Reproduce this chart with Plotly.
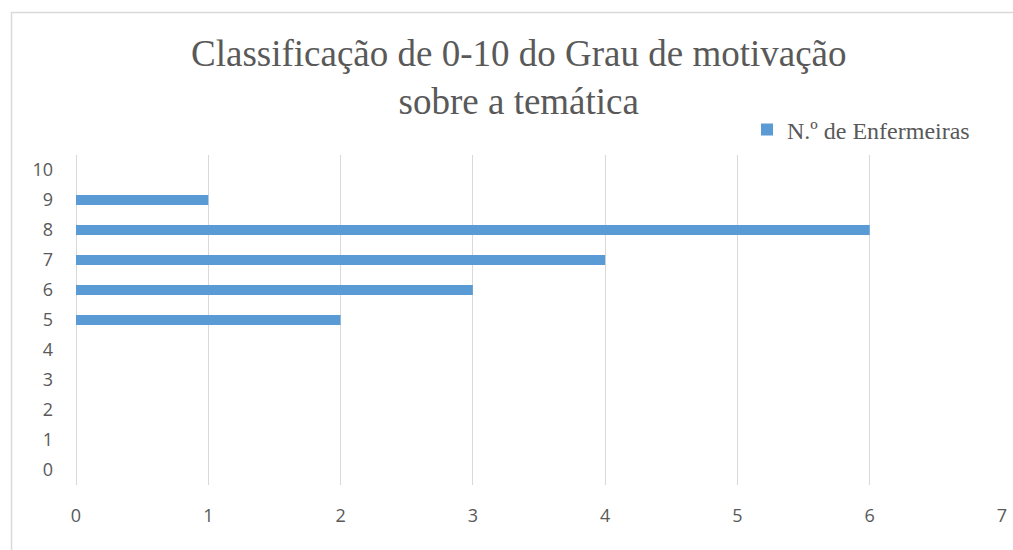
import plotly.graph_objects as go

categories = [0, 1, 2, 3, 4, 5, 6, 7, 8, 9, 10]
nurses = [0, 0, 0, 0, 0, 2, 3, 4, 6, 1, 0]
x_ticks = [0, 1, 2, 3, 4, 5, 6, 7]
title_text = "Classificação de 0-10 do Grau de motivação<br>sobre a temática"
series_name = "N.º de Enfermeiras"

W, H = 1013, 550
L, R, T, B = 76, 11, 155, 65
pw, ph = W - L - R, H - T - B

def px_to_paper_x(px):
    return (px - L) / pw

def px_to_paper_y(py):
    return 1 + (T - py) / ph

SERIF = "Liberation Serif"
SANS = "Open Sans"

fig = go.Figure()
fig.add_trace(go.Bar(
    y=categories, x=nurses, orientation="h",
    name=series_name,
    marker=dict(color="#5B9BD5", line=dict(width=0)),
    width=0.34,
))

fig.update_layout(
    width=W, height=H,
    margin=dict(l=L, r=R, t=T, b=B, autoexpand=False),
    paper_bgcolor="white", plot_bgcolor="white",
    showlegend=True,
    legend=dict(
        x=px_to_paper_x(747), y=px_to_paper_y(130),
        xanchor="left", yanchor="middle",
        font=dict(family=SERIF, size=24, color="#595959"),
        bgcolor="rgba(0,0,0,0)",
        itemwidth=30,
    ),
    xaxis=dict(
        range=[0, 7], tickvals=x_ticks, showgrid=True, gridcolor="#d9d9d9", gridwidth=1,
        zeroline=True, zerolinecolor="#d9d9d9", zerolinewidth=1,
        showline=False, ticks="", automargin=False,
        tickfont=dict(family=SANS, size=18, color="#595959"),
        ticklabelstandoff=18,
    ),
    yaxis=dict(
        range=[-0.5, 10.5], tickvals=categories, showgrid=False, zeroline=False,
        showline=False, ticks="", automargin=False,
        tickfont=dict(family=SANS, size=18, color="#595959"),
        ticklabelstandoff=22,
    ),
    annotations=[dict(
        text=title_text, xref="paper", yref="paper",
        x=px_to_paper_x(519), y=px_to_paper_y(77.5),
        xanchor="center", yanchor="middle", showarrow=False,
        font=dict(family=SERIF, size=37, color="#595959"),
    )],
    shapes=[dict(
        type="rect", xref="paper", yref="paper",
        x0=px_to_paper_x(11.5), x1=px_to_paper_x(1030),
        y0=px_to_paper_y(600), y1=px_to_paper_y(12.5),
        line=dict(color="#d9d9d9", width=1.5), fillcolor="rgba(0,0,0,0)", layer="below",
    )],
)

fig.write_html("out.html", config={"displayModeBar": False},
               post_script="document.body.style.margin='0';")
